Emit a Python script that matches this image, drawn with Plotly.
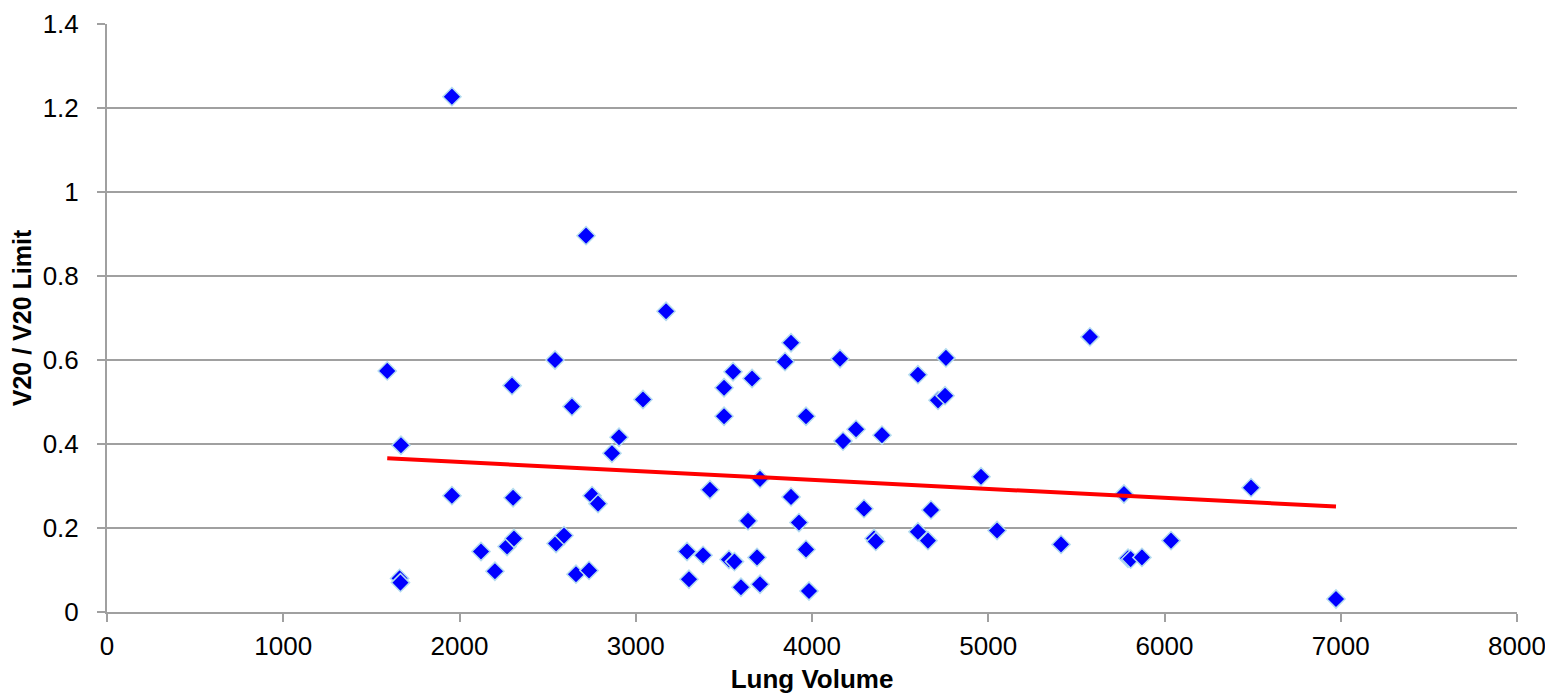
import plotly.graph_objects as go

lung_volume = [1590, 1668, 1660, 1665, 1957, 1957, 2122, 2201, 2270, 2309, 2304, 2298,
               2542, 2548, 2593, 2638, 2661, 2718, 2735, 2752, 2786, 2865, 2905, 3041,
               3172, 3291, 3302, 3382, 3421, 3501, 3501, 3552, 3529, 3560, 3597, 3637,
               3660, 3688, 3705, 3705, 3847, 3881, 3881, 3926, 3966, 3966, 3983, 4159,
               4176, 4250, 4295, 4352, 4362, 4397, 4601, 4601, 4658, 4675, 4715, 4755,
               4760, 4959, 5050, 5413, 5577, 5770, 5793, 5808, 5872, 6037, 6491, 6973]
v20_ratio = [0.574, 0.397, 0.080, 0.070, 1.227, 0.277, 0.144, 0.097, 0.156, 0.175, 0.272, 0.539,
             0.600, 0.163, 0.182, 0.489, 0.090, 0.896, 0.099, 0.277, 0.258, 0.378, 0.416, 0.506,
             0.716, 0.144, 0.078, 0.135, 0.291, 0.534, 0.466, 0.572, 0.125, 0.120, 0.059, 0.217,
             0.556, 0.130, 0.066, 0.317, 0.596, 0.641, 0.274, 0.213, 0.466, 0.149, 0.050, 0.603,
             0.407, 0.435, 0.246, 0.175, 0.168, 0.421, 0.565, 0.191, 0.170, 0.243, 0.504, 0.515,
             0.605, 0.322, 0.194, 0.161, 0.655, 0.281, 0.128, 0.126, 0.130, 0.170, 0.296, 0.031]

trend_x = [1590, 6973]
trend_y = [0.366, 0.251]

x_ticks = [0, 1000, 2000, 3000, 4000, 5000, 6000, 7000, 8000]
y_ticks = [0, 0.2, 0.4, 0.6, 0.8, 1.0, 1.2, 1.4]
y_tick_labels = ["0", "0.2", "0.4", "0.6", "0.8", "1", "1.2", "1.4"]

fig = go.Figure()
fig.add_trace(go.Scatter(
    x=lung_volume, y=v20_ratio, mode="markers",
    marker=dict(symbol="diamond", size=14, color="#0000FF",
                line=dict(color="#B4DCF0", width=1.5)),
    showlegend=False))
fig.add_trace(go.Scatter(
    x=trend_x, y=trend_y, mode="lines",
    line=dict(color="#FF0000", width=4), showlegend=False))

fig.update_layout(
    width=1545, height=690,
    margin=dict(l=99, r=36, t=16, b=86, autoexpand=False),
    paper_bgcolor="white", plot_bgcolor="white",
    font=dict(family="Liberation Sans, Arial, sans-serif", color="black"),
)
fig.update_xaxes(
    range=[0, 8000], tickvals=x_ticks, ticktext=[str(t) for t in x_ticks],
    showgrid=False, zeroline=False, showline=True, linecolor="#A0A0A0", linewidth=2,
    ticks="outside", ticklen=8, tickcolor="#A0A0A0", tickwidth=2,
    tickfont=dict(size=26), ticklabelstandoff=2, ticklabeloverflow="allow",
    title=dict(text="<b>Lung Volume</b>", font=dict(size=26), standoff=10),
)
fig.update_yaxes(
    range=[0, 1.4], tickvals=y_ticks, ticktext=y_tick_labels,
    showgrid=True, gridcolor="#A0A0A0", gridwidth=1.5, zeroline=False,
    showline=True, linecolor="#A0A0A0", linewidth=2,
    ticks="outside", ticklen=8, tickcolor="#A0A0A0", tickwidth=2,
    tickfont=dict(size=26), ticklabelstandoff=13, ticklabeloverflow="allow",
    title=dict(text="<b>V20 / V20 Limit</b>", font=dict(size=25), standoff=10),
)

fig.write_html("out.html")
